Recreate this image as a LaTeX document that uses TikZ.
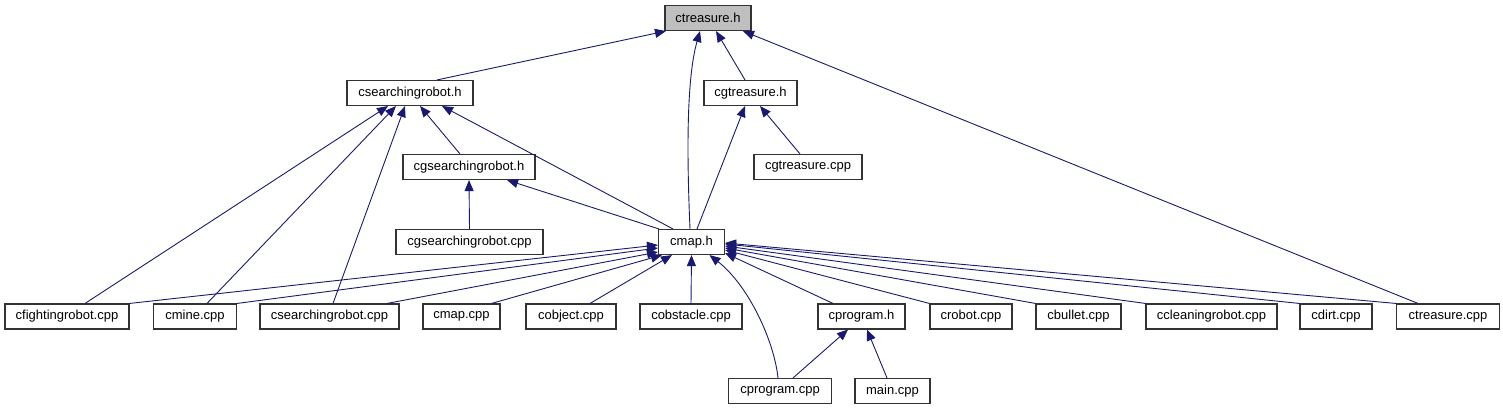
\documentclass[tikz,border=0pt]{standalone}
\usepackage{fontspec}
\setmainfont{Liberation Sans}
\usetikzlibrary{arrows.meta}
\definecolor{edgeblue}{RGB}{25,25,112}
\definecolor{topgray}{RGB}{191,191,191}
\begin{document}
\begin{tikzpicture}[x=1pt,y=-1pt,
  box/.style={draw=black!80,line width=1.1pt,minimum height=25pt,inner sep=0pt,
    font=\fontsize{13}{15}\selectfont,fill=white},
  edge/.style={draw=edgeblue,line width=0.9pt,-{Triangle[length=11pt,width=9pt]}}]
\useasboundingbox (0,0) rectangle (1503,411);
% nodes
\node[box,fill=topgray,minimum width=86pt] (ct) at (708,18) {ctreasure.h};
\node[box,minimum width=126pt] (csr) at (410,93) {csearchingrobot.h};
\node[box,minimum width=93pt] (cgt) at (750.5,93) {cgtreasure.h};
\node[box,minimum width=132pt] (cgsr) at (469,167) {cgsearchingrobot.h};
\node[box,minimum width=108pt] (cgtc) at (808,167) {cgtreasure.cpp};
\node[box,minimum width=147pt] (cgsrc) at (469.5,242) {cgsearchingrobot.cpp};
\node[box,minimum width=66pt] (cmap) at (691.5,242) {cmap.h};
\node[box,minimum width=124pt] (cfr) at (67,316.5) {cfightingrobot.cpp};
\node[box,minimum width=83pt] (cmine) at (195,316.5) {cmine.cpp};
\node[box,minimum width=139pt] (csrc) at (329.5,316.5) {csearchingrobot.cpp};
\node[box,minimum width=77pt] (cmapc) at (461.5,316.5) {cmap.cpp};
\node[box,minimum width=90pt] (cobj) at (571,316.5) {cobject.cpp};
\node[box,minimum width=102pt] (cobs) at (691,316.5) {cobstacle.cpp};
\node[box,minimum width=87pt] (cprh) at (861.5,316.5) {cprogram.h};
\node[box,minimum width=82pt] (crob) at (971,316.5) {crobot.cpp};
\node[box,minimum width=85pt] (cbul) at (1078.5,316.5) {cbullet.cpp};
\node[box,minimum width=131pt] (cclean) at (1211.5,316.5) {ccleaningrobot.cpp};
\node[box,minimum width=72pt] (cdirt) at (1336,316.5) {cdirt.cpp};
\node[box,minimum width=103pt] (ctc) at (1448,316.5) {ctreasure.cpp};
\node[box,minimum width=103pt] (cprc) at (780,391) {cprogram.cpp};
\node[box,minimum width=75pt] (mainc) at (892.5,391) {main.cpp};
% edges to ctreasure.h
\draw[edge] ([xshift=27pt]csr.north) -- ([xshift=-42pt]ct.south);
\draw[edge] ([xshift=-5.5pt]cgt.north) -- ([xshift=8pt]ct.south);
\draw[edge] ([xshift=-1.5pt]cmap.north) .. controls (687,160) and (686,80) .. ([xshift=-8pt]ct.south);
\draw[edge] ([xshift=-30pt]ctc.north) -- ([xshift=35pt]ct.south);
% edges to csearchingrobot.h
\draw[edge] ([xshift=-9pt]cgsr.north) -- ([xshift=10pt]csr.south);
\draw[edge] ([xshift=-18.5pt]cmap.north) -- ([xshift=32pt]csr.south);
\draw[edge] ([xshift=18pt]cfr.north) -- ([xshift=-22pt]csr.south);
\draw[edge] ([xshift=12pt]cmine.north) -- ([xshift=-14pt]csr.south);
\draw[edge] ([xshift=3.5pt]csrc.north) -- ([xshift=-5pt]csr.south);
% edges to cgtreasure.h
\draw[edge] ([xshift=-8pt]cgtc.north) -- ([xshift=9.5pt]cgt.south);
\draw[edge] ([xshift=5.5pt]cmap.north) -- ([xshift=-5.5pt]cgt.south);
% edges to cgsearchingrobot.h
\draw[edge] (cgsrc.north) -- (cgsr.south);
\draw[edge] ([xshift=1pt]cmap.north west) -- ([xshift=38pt]cgsr.south);
% edges to cmap.h
\draw[edge] (cfr.north east) -- ([yshift=-3pt]cmap.west);
\draw[edge] (cmine.north east) -- ([yshift=-6pt]cmap.west);
\draw[edge] ([xshift=57.5pt]csrc.north) -- ([yshift=-10pt]cmap.west);
\draw[edge] ([xshift=30pt]cmapc.north) -- ([xshift=4pt]cmap.south west);
\draw[edge] ([xshift=19pt]cobj.north) -- ([xshift=-19.5pt]cmap.south);
\draw[edge] (cobs.north) -- (cmap.south);
\draw[edge] ([xshift=-2pt]cprc.north) .. controls (774,340) and (748,285) .. ([xshift=18pt]cmap.south);
\draw[edge] ([xshift=-28.5pt]cprh.north) -- ([yshift=-11pt]cmap.east);
\draw[edge] (crob.north west) -- ([yshift=-8pt]cmap.east);
\draw[edge] (cbul.north west) -- ([yshift=-6pt]cmap.east);
\draw[edge] (cclean.north west) -- ([yshift=-4pt]cmap.east);
\draw[edge] (cdirt.north west) -- ([yshift=-2pt]cmap.east);
\draw[edge] (ctc.north west) -- ([yshift=-1pt]cmap.east);
% edges to cprogram.h
\draw[edge] ([xshift=13pt]cprc.north) -- ([xshift=-13.5pt]cprh.south);
\draw[edge] ([xshift=-5.5pt]mainc.north) -- ([xshift=5.5pt]cprh.south);
\end{tikzpicture}
\end{document}
